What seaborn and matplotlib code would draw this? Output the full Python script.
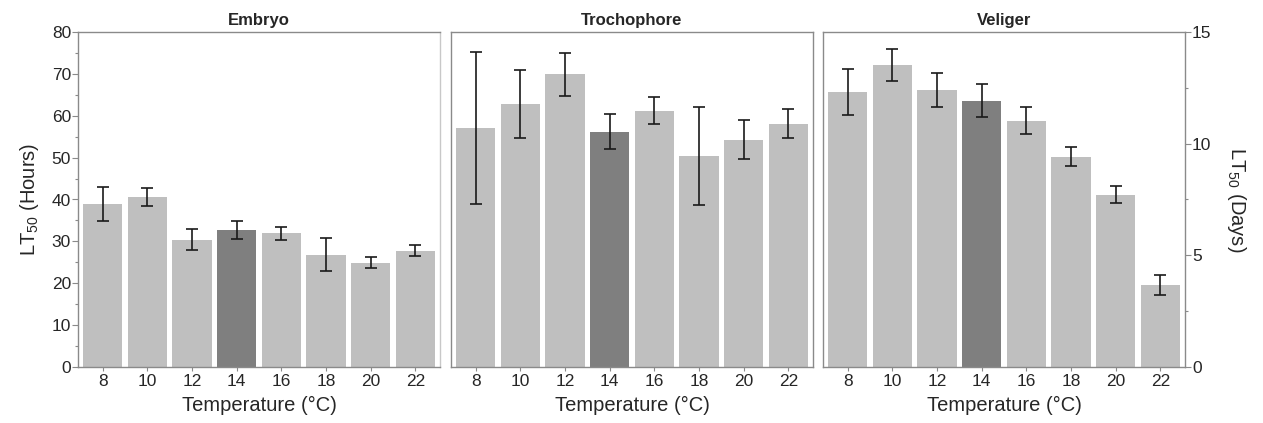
import matplotlib
matplotlib.use("Agg")
import matplotlib.pyplot as plt
import seaborn as sns
import pandas as pd
import numpy as np
from matplotlib.ticker import MultipleLocator

temps = ["8", "10", "12", "14", "16", "18", "20", "22"]

embryo = [38.9, 40.6, 30.4, 32.6, 31.9, 26.8, 24.9, 27.8]
embryo_lo = [34.8, 38.5, 27.9, 30.5, 30.3, 22.9, 23.7, 26.6]
embryo_hi = [42.9, 42.8, 32.9, 34.8, 33.5, 30.7, 26.3, 29.1]

troch = [57.1, 62.8, 70.0, 56.2, 61.2, 50.5, 54.3, 58.0]
troch_lo = [39.0, 54.7, 64.6, 52.1, 58.0, 38.8, 49.6, 54.6]
troch_hi = [75.2, 71.0, 75.1, 60.3, 64.4, 62.2, 59.0, 61.7]

veliger = [12.33, 13.51, 12.41, 11.93, 11.0, 9.40, 7.70, 3.66]
veliger_lo = [11.28, 12.81, 11.66, 11.19, 10.43, 8.98, 7.35, 3.21]
veliger_hi = [13.36, 14.26, 13.18, 12.66, 11.63, 9.85, 8.10, 4.11]

titles = ["Embryo", "Trochophore", "Veliger"]

sns.set_theme(style="white")
plt.rcParams["font.family"] = ["Liberation Sans", "DejaVu Sans"]

LIGHT = "#bfbfbf"
DARK = "#7f7f7f"
palette = {t: (DARK if t == "14" else LIGHT) for t in temps}
FRAME = "#8a8a8a"
TICK_FS = 12.5

fig = plt.figure(figsize=(12.63, 4.23), dpi=100)
W, H = 1263, 423
lefts = [78, 451, 823]
axw = 362
top, bottom = 32, 367
axes = [fig.add_axes([l / W, (H - bottom) / H, axw / W, (bottom - top) / H]) for l in lefts]

series = [(embryo, embryo_lo, embryo_hi), (troch, troch_lo, troch_hi), (veliger, veliger_lo, veliger_hi)]

for i, (ax, (vals, lo, hi), title) in enumerate(zip(axes, series, titles)):
    df = pd.DataFrame({"Temp": temps, "LT50": vals})
    sns.barplot(data=df, x="Temp", y="LT50", hue="Temp", palette=palette,
                order=temps, hue_order=temps, legend=False, width=0.88,
                errorbar=None, saturation=1, ax=ax, linewidth=0)
    centers = []
    for p in ax.patches:
        if p.get_height() > 0:
            centers.append(p.get_x() + p.get_width() / 2)
    centers = np.sort(np.array(centers))
    v = np.array(vals)
    yerr = np.vstack([v - np.array(lo), np.array(hi) - v])
    ax.errorbar(centers, v, yerr=yerr, fmt="none", ecolor="#1a1a1a",
                elinewidth=1.2, capsize=4, capthick=1.2, zorder=5)
    ax.set_xlim(-0.55, 7.55)
    ax.set_title(title, fontsize=12, fontweight="bold", pad=5)
    ax.set_xlabel("Temperature (°C)", fontsize=14.5, labelpad=5)
    for s in ax.spines.values():
        s.set_color(FRAME)
        s.set_linewidth(1.0)
    ax.tick_params(axis="x", which="major", bottom=True, length=3, width=0.8,
                   color=FRAME, labelsize=TICK_FS, pad=2)

    if i == 0:
        ax.set_ylim(0, 80)
        ax.yaxis.set_major_locator(MultipleLocator(10))
        ax.yaxis.set_minor_locator(MultipleLocator(5))
        ax.tick_params(axis="y", which="major", left=True, length=4, width=0.8,
                       color=FRAME, labelsize=TICK_FS, pad=1)
        ax.tick_params(axis="y", which="minor", left=True, length=2.5, width=0.8,
                       color=FRAME)
        ax.set_ylabel("LT$_{\\mathregular{50}}$ (Hours)", fontsize=14.5, labelpad=8)
        ax.spines["right"].set_color("#c8c8c8")
    elif i == 1:
        ax.set_ylim(0, 80)
        ax.set_yticks([])
        ax.set_ylabel("")
    else:
        ax.set_ylim(0, 15)
        ax.yaxis.tick_right()
        ax.yaxis.set_label_position("right")
        ax.yaxis.set_major_locator(MultipleLocator(5))
        ax.yaxis.set_minor_locator(MultipleLocator(2.5))
        ax.tick_params(axis="y", which="major", right=True, left=False, length=4,
                       width=0.8, color=FRAME, labelsize=TICK_FS, pad=1)
        ax.tick_params(axis="y", which="minor", right=True, left=False, length=2.5,
                       width=0.8, color=FRAME)
        ax.set_ylabel("LT$_{\\mathregular{50}}$ (Days)", fontsize=14.5, rotation=270,
                      labelpad=26)

fig.savefig("out.png", dpi=100)
